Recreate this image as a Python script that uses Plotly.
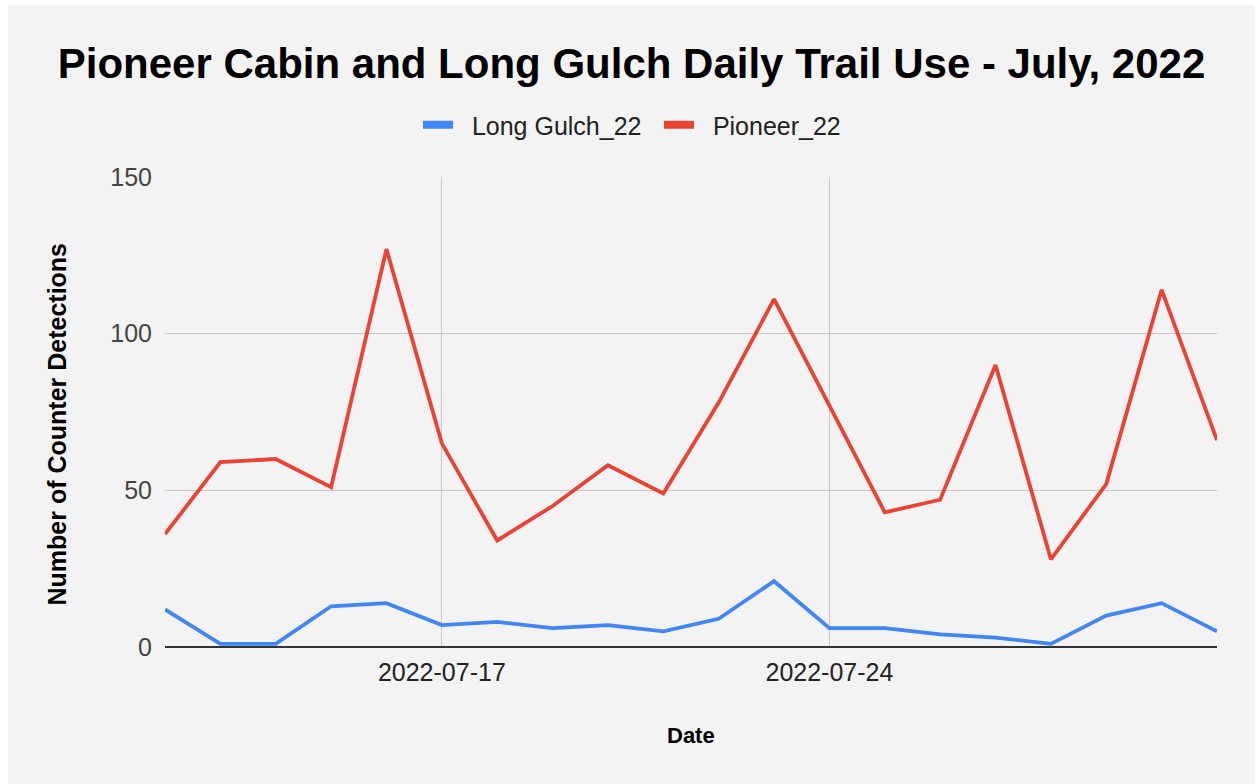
import plotly.graph_objects as go
import pandas as pd

dates = pd.date_range("2022-07-12", "2022-07-31", freq="D").strftime("%Y-%m-%d").tolist()
long_gulch_22 = [12, 1, 1, 13, 14, 7, 8, 6, 7, 5, 9, 21, 6, 6, 4, 3, 1, 10, 14, 5]
pioneer_22 = [36, 59, 60, 51, 127, 65, 34, 45, 58, 49, 78, 111, 77, 43, 47, 90, 28, 52, 114, 66]
x_tickvals = ["2022-07-17", "2022-07-24", "2022-07-31"]
x_ticktext = ["2022-07-17", "2022-07-24", ""]
series = [("Long Gulch_22", long_gulch_22, "#4285F4"), ("Pioneer_22", pioneer_22, "#EA4335")]

BG = "#f3f3f3"
FONT = "Liberation Sans, Arial, sans-serif"

# figure placed at page offset (8, 5)
W, H = 1247, 779
L, R, T, B = 157, 38, 172, 137
pw, ph = W - L - R, H - T - B

fig = go.Figure()
for name, vals, color in series:
    fig.add_trace(go.Scatter(x=dates, y=vals, mode="lines", name=name, showlegend=False,
                             line=dict(color=color, width=3.8)))
for name, vals, color in series:
    fig.add_trace(go.Scatter(x=[None], y=[None], mode="lines", name="\u00a0\u00a0" + name,
                             showlegend=True, line=dict(color=color, width=8)))

fig.update_layout(
    width=W, height=H,
    margin=dict(l=L, r=R, t=T, b=B),
    paper_bgcolor=BG,
    plot_bgcolor=BG,
    font=dict(family=FONT, color="#222"),
    title=dict(text="<b>Pioneer Cabin and Long Gulch Daily Trail Use - July, 2022</b>",
               x=0.5, xanchor="center", y=1 - 58 / H, yanchor="middle", yref="container",
               font=dict(size=42, color="#000", family=FONT)),
    legend=dict(orientation="h", x=(410 - L) / pw, xanchor="left", y=(H - B - 120) / ph, yanchor="middle",
                font=dict(size=25, color="#222"), bgcolor="rgba(0,0,0,0)",
                entrywidth=196, entrywidthmode="pixels"),
    showlegend=True,
    annotations=[
        dict(text="<b>Date</b>", xref="paper", yref="paper", x=0.5, y=(642 - 730) / ph,
             xanchor="center", yanchor="middle", showarrow=False,
             font=dict(size=22, color="#000", family=FONT)),
        dict(text="<b>Number of Counter Detections</b>", xref="paper", yref="paper",
             x=(48 - L) / pw, y=(642 - 419.5) / ph, textangle=-90,
             xanchor="center", yanchor="middle", showarrow=False,
             font=dict(size=25, color="#000", family=FONT)),
    ],
)
fig.update_xaxes(
    range=[dates[0], dates[-1]],
    tickvals=x_tickvals, ticktext=x_ticktext,
    showgrid=True, gridcolor="#c8c8c8", gridwidth=1,
    zeroline=False, showline=False,
    tickfont=dict(size=25, color="#222"),
    ticks="", ticklabelstandoff=8,
)
fig.update_yaxes(
    range=[0, 150], tickvals=[0, 50, 100, 150],
    showgrid=True, gridcolor="#c8c8c8", gridwidth=1,
    zeroline=True, zerolinecolor="#333", zerolinewidth=2,
    showline=False,
    tickfont=dict(size=25, color="#444"),
    ticks="", ticklabelstandoff=12,
)

fig.write_html("out.html", post_script="document.body.style.margin='5px 0 0 8px';")
